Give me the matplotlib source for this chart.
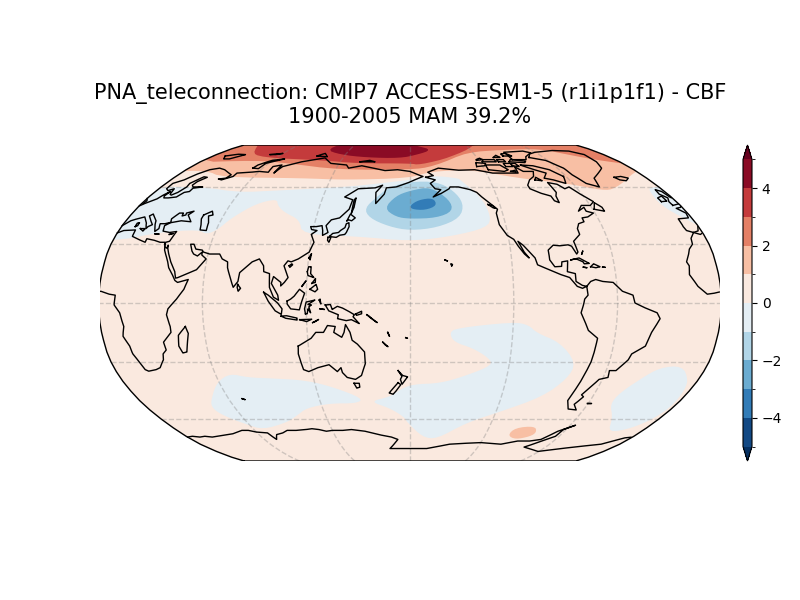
import numpy as np
import matplotlib
matplotlib.use('Agg')
import matplotlib.pyplot as plt
from matplotlib.colors import BoundaryNorm, ListedColormap
from matplotlib.cm import ScalarMappable
from matplotlib.patches import Polygon

title = 'PNA_teleconnection: CMIP7 ACCESS-ESM1-5 (r1i1p1f1) - CBF\n1900-2005 MAM 39.2%'
levels = [-5, -4, -3, -2, -1, 0, 1, 2, 3, 4, 5]
cbar_ticks = [-4, -2, 0, 2, 4]

# Robinson table
rob_lat = np.arange(0, 95, 5)
rob_plen = [1, .9986, .9954, .99, .9822, .973, .96, .9427, .9216, .8962, .8679, .835, .7986, .7597, .7186, .6732, .6213, .5722, .5322]
rob_pdfe = [0, .062, .124, .186, .248, .31, .372, .434, .4958, .5571, .6176, .6769, .7346, .7903, .8435, .8936, .9394, .9761, 1]

# contour regions, (lon, lat); lon runs 0-360 centred on 180
pos1 = [(-10, 69), (18, 69.5), (36, 65.5), (98, 65), (130, 64), (180, 65), (196, 69), (231, 70), (262, 65), (296, 62), (317, 58), (327, 59), (358, 69), (370, 70), (370, 100), (-10, 100)]
pos2 = [(-10, 74.5), (46, 76), (78, 74), (123, 70), (180, 70), (199, 72), (235, 82), (270, 84), (312, 85), (326, 80), (350, 75), (370, 73), (370, 100), (-10, 100)]
pos3 = [(0, 100), (28, 82), (46, 78), (104, 76), (135, 74), (180, 74), (188, 73), (216, 78), (246, 87), (260, 100)]
pos4 = [(96, 84.5), (115, 80), (141, 78), (171, 77.5), (187, 80), (201, 84), (190, 88), (170, 95), (110, 95)]
pos_antarctic = [(258, -69.5), (260, -65), (274, -64), (279, -67.5), (277, -70), (267, -72)]

neg_eurasia = [(-10, 60), (30, 60), (60, 57), (84, 58), (134, 60), (157, 62), (180, 64), (198, 66.5), (216, 65), (218, 64), (229, 54.5), (232, 44), (228, 38.5), (205, 34), (180, 31.5), (148, 34), (114, 35), (110, 42.5), (98, 46.5), (92, 50), (89, 53.5), (77, 51), (66, 43.5), (61, 37.5), (55, 35), (49, 37.5), (25, 36), (5, 32), (-10, 33)]
neg_atlantic = [(370, 60), (353, 60), (349, 57), (347, 50), (355, 43), (370, 34)]
neg_indian = [(50, -48), (59, -40.4), (69, -36), (79, -38), (94, -38.5), (115, -39.5), (131, -43), (149, -49), (144, -51.5), (126, -51.5), (109, -54), (100, -58), (89, -62), (67, -66), (58, -63), (47, -58), (44, -53.5)]
neg_pacific = [(153, -50.5), (167, -48), (174, -44), (182, -41.5), (199, -41), (215, -37), (230, -31.7), (227, -28), (217, -23), (206, -20), (203, -15.3), (207, -12.8), (240, -9.7), (249, -11.2), (254, -15.3), (268, -20), (280, -30.6), (278, -38.5), (267, -48), (243, -56), (222, -62), (202, -71.7), (190, -70.5), (178, -62), (176, -59), (166, -54)]
neg_s_atlantic = [(315, -52), (316, -46), (324, -38.5), (332, -33), (345, -32), (354, -39.5), (357, -46), (358, -57), (350, -65), (335, -68), (325, -59)]
neg2 = [(150, 48.5), (157, 54.5), (165, 60), (180, 63), (200, 63), (211, 58), (216, 51), (212, 43.5), (197, 38.5), (180, 37), (167, 39), (154, 43.5)]
neg3 = [(163, 48.5), (170, 55), (180, 58), (195, 60), (207, 53), (208, 47), (197, 43.5), (180, 43), (171, 44)]
neg4 = [(180, 50), (186, 53), (196, 54), (198, 50), (190, 47.5), (181, 48)]

# coastlines, (lon, lat)
eurasia = [(-5.5, 36), (-9, 37), (-9.5, 39), (-9, 43), (-2, 43.5), (-1, 46), (-4.5, 48.5), (-1, 49), (2, 51), (4, 52), (7, 53.5), (8.5, 55.5), (10.5, 57.5), (10, 55), (11, 54), (14, 54), (19, 54.5), (21, 57), (24, 57.5), (24, 59.3), (30, 60), (23, 60), (21, 61), (21.5, 63), (25, 65.5), (22, 65.8), (17.5, 62), (18.5, 60), (16.5, 57), (14, 55.5), (12.5, 56), (11, 59), (8, 58), (5.5, 59), (5, 62), (10, 64), (14, 67.5), (19, 70), (25, 71), (31, 70), (41, 67), (40, 65), (35, 64.5), (38, 64), (44, 66), (44, 68), (54, 68.5), (60, 69), (68, 68.5), (67, 72), (73, 73), (73, 68), (75, 72), (81, 73.5), (87, 75), (104, 77.7), (113, 74), (127, 73), (130, 71), (140, 72.5), (160, 69.5), (170, 70), (180, 69), (188, 66.5), (190, 66), (185, 64.5), (179, 62.5), (170, 60), (163, 59.5), (162, 56), (157, 51), (156, 57), (160, 61), (155, 59.5), (143, 59), (135, 54.5), (141, 53), (140, 48), (135, 43.5), (130, 42.5), (127.5, 39.5), (129.5, 36), (126.5, 34.5), (126, 37), (125, 39.5), (121.5, 39), (118, 39), (119, 37.5), (122.5, 37), (119.5, 35), (122, 31), (120, 26), (114, 22.5), (110, 21), (108, 21.5), (106, 19), (109, 13), (107, 10.5), (105, 8.7), (105, 10.5), (100.5, 13.5), (99.5, 10), (103.5, 4), (104, 1.4), (101, 3), (98.5, 8), (98, 15), (94.5, 16), (94, 19), (91, 22.5), (87, 21), (80.5, 15.5), (80, 11), (77.5, 8), (73, 18), (72.5, 21), (69, 22.5), (67, 25), (61, 25), (57, 26), (56, 27), (52, 27.5), (50, 30), (48, 30), (50, 26.5), (51.5, 25), (54, 24), (56.3, 26), (56.5, 24.5), (59.5, 22.5), (55, 17), (45, 13), (43.5, 12.7), (42.5, 16), (39, 21), (35, 28), (34.8, 29.5), (34.3, 28), (33.2, 28.5), (32.5, 30), (32.5, 31), (34.5, 31.5), (36, 36.5), (32, 36), (27.5, 36.7), (26.5, 39.5), (29, 41), (35, 42), (41.5, 41.5), (37, 45), (39, 47), (35, 46), (35.5, 45), (33.5, 44.5), (33, 46), (30.5, 46), (28, 43), (29, 41.2), (26, 40.5), (23, 40.5), (24, 38), (22.5, 36.5), (19.5, 41), (19, 42), (14, 45.5), (12.5, 44.5), (16, 41.8), (18.5, 40), (16.5, 39), (16, 38), (14, 40.8), (10, 44), (6, 43), (3, 42), (0, 39.5), (-2, 36.8), (-5.5, 36)]
africa = [(32.5, 30), (33.5, 27), (35.5, 24), (37.2, 21), (38.5, 18), (41, 15), (43.3, 11.5), (45, 10.5), (51, 12), (49, 7), (45, 2), (40, -3), (39, -6), (40.5, -12), (40.5, -15), (35, -20), (35.5, -24), (33, -26), (32, -29), (28, -33), (25, -34), (20, -34.8), (18.3, -34), (17, -30), (15, -26), (14.5, -22), (12, -17), (13.5, -12), (12, -5), (9, -1), (9.5, 4), (6, 4.5), (1, 6), (-4, 5), (-8, 4.5), (-13, 8.5), (-17, 14.5), (-16, 19), (-17, 21), (-13, 27.5), (-10, 30), (-9, 33), (-5.5, 36), (-2, 35), (3, 37), (10, 37.3), (10.5, 34), (15, 32.5), (20, 31), (20, 32.8), (25, 32), (29, 31), (32, 31), (32.5, 30)]
n_america = [(-168, 65.5), (-162, 66.5), (-166, 68.5), (-157, 71), (-141, 69.7), (-128, 70), (-115, 68), (-108, 68), (-95, 68), (-94, 72), (-90, 69), (-82, 69), (-85, 66), (-90, 64), (-94, 61), (-94, 59), (-88, 56.5), (-82.5, 55), (-82, 52.5), (-79.5, 51.5), (-79, 55), (-77, 57), (-78, 62.5), (-72, 61.5), (-69, 59), (-65, 60), (-61, 56), (-56, 52), (-60, 50), (-66, 50), (-70, 47), (-65, 49), (-65, 47), (-61, 46), (-66, 44), (-70, 43.5), (-70, 41.5), (-74, 40.5), (-76, 38), (-76, 35), (-81, 31.5), (-80, 26), (-81, 25), (-83, 29), (-85, 29.7), (-90, 29.2), (-94, 29.5), (-97.5, 27), (-97.5, 22), (-95, 18.5), (-91, 18.7), (-90.5, 21), (-87, 21.5), (-88, 16), (-83.5, 15), (-83.5, 11), (-80, 9), (-77.5, 8.5), (-80, 7.5), (-83, 8.5), (-87, 13), (-92, 14.5), (-96, 16), (-105, 19.5), (-106, 23), (-112, 29.5), (-114.7, 31.5), (-112, 26), (-109.5, 23), (-112, 25), (-115, 29), (-117, 32.5), (-120.5, 34.5), (-122.5, 37.5), (-124, 40), (-124, 46), (-122.5, 48), (-125, 50), (-130, 54), (-133, 57), (-137, 58.5), (-145, 60), (-151, 60), (-152, 59), (-158, 56.5), (-164, 54.5), (-158, 58.5), (-162, 59), (-165, 62), (-161, 64), (-168, 65.5)]
s_america = [(-77.5, 8.5), (-75, 11), (-72, 12), (-68, 11), (-62, 10.5), (-57, 6), (-51, 4), (-50, 0), (-44, -2.5), (-37, -5), (-35, -8), (-39, -15), (-41, -22), (-48, -26), (-49, -29), (-54, -34.5), (-58, -34.5), (-57, -38), (-62, -39), (-65, -43), (-68, -47), (-66, -48), (-69, -52), (-65, -55), (-71, -54.5), (-75, -50), (-73, -40), (-71, -30), (-70, -18), (-76, -14), (-81, -5), (-80, -2), (-79, 2), (-77, 4), (-77.5, 8.5)]
antarctica = [(0, -70.5), (5, -70), (10, -70.5), (15, -70), (20, -70.5), (25, -70), (30, -69.5), (35, -69), (40, -68.5), (45, -67.5), (50, -66.5), (55, -66.5), (60, -67.5), (68, -68), (70, -72), (74, -69), (80, -68), (85, -66.5), (92, -66.5), (100, -66), (105, -65.5), (110, -66), (115, -67), (120, -66.5), (128, -66.5), (135, -66), (145, -67), (155, -69), (165, -70.5), (170, -72), (165, -76), (162, -78), (172, -78), (180, -78), (195, -78), (202, -77), (214, -75), (225, -74.5), (240, -74), (258, -75), (270, -73), (280, -73), (288, -72), (295, -67), (304, -63.5), (298, -66), (297, -70), (281, -77), (299, -80), (325, -77), (344, -75), (355, -71), (360, -70.5)]
greenland = [(-73, 78), (-68, 80.5), (-60, 82), (-40, 83.5), (-25, 83), (-18, 80), (-20, 75), (-24, 71), (-32, 68), (-40, 65), (-43, 60), (-50, 62), (-54, 67), (-55, 71), (-62, 76), (-73, 78)]
ellesmere = [(-90, 76.5), (-78, 76.5), (-75, 78.5), (-65, 81.5), (-70, 83), (-90, 82), (-90, 76.5)]
baffin = [(-62, 66), (-65, 62), (-72, 64), (-78, 65), (-73, 68), (-80, 70), (-88, 73), (-78, 72.5), (-68, 70), (-62, 66)]
victoria = [(-117, 70), (-105, 69), (-101, 70), (-105, 73), (-117, 73), (-117, 70)]
banks = [(-125, 72), (-118, 72.5), (-116, 74), (-124, 74.5), (-125, 72)]
devon = [(-95, 75), (-82, 74.5), (-80, 75.5), (-92, 76.5), (-95, 75)]
melville = [(-118, 75), (-106, 75), (-106, 76.5), (-116, 76.5), (-118, 75)]
heiberg = [(-95, 79), (-87, 79), (-90, 81), (-95, 80.5), (-95, 79)]
pow_island = [(-101, 72), (-95, 72), (-95, 74), (-101, 74), (-101, 72)]
somerset = [(-95, 72.5), (-90, 72), (-91, 74), (-95, 74), (-95, 72.5)]
bathurst = [(-104, 75), (-98, 75), (-98, 76.5), (-104, 76.5), (-104, 75)]
patrick = [(-122, 76), (-116, 76.5), (-118, 77.5), (-122, 76.5), (-122, 76)]
king_william = [(-100, 69), (-96, 68.5), (-96, 69.7), (-100, 69)]
ringnes = [(-105, 78), (-99, 78), (-101, 79.5), (-105, 78)]
southampton = [(-86, 64), (-81, 63.5), (-84, 65.5), (-86, 64)]
newfoundland = [(-59, 48), (-53, 47), (-53, 49), (-56, 51.5), (-59, 48)]
iceland = [(-24, 65.5), (-18, 66), (-14, 65), (-18, 63.5), (-22, 64), (-24, 65.5)]
svalbard = [(11, 79), (20, 80.3), (27, 80), (20, 77), (15, 77), (11, 79)]
franz_josef = [(50, 80), (60, 81), (55, 80), (50, 80)]
novaya = [(52, 71), (57, 70.7), (58, 74), (69, 77), (60, 76), (53, 73), (52, 71)]
severnaya = [(95, 79), (105, 78.5), (100, 81), (95, 79)]
siberian = [(137, 75), (150, 75), (145, 76), (137, 75)]
britain = [(-5, 50), (1, 51), (1.5, 52.5), (-1, 54.5), (-2, 57.5), (-5, 58.5), (-6, 56), (-3, 54), (-5, 52), (-5, 50)]
ireland = [(-10, 52), (-6, 52.3), (-6, 55), (-10, 54), (-10, 52)]
sicily = [(12.5, 38), (15.5, 38), (15, 36.7), (12.5, 38)]
sardinia = [(8.5, 39), (9.7, 39.5), (9.5, 41), (8.3, 40.8), (8.5, 39)]
crete = [(23.5, 35.3), (26, 35.2), (23.5, 35.3)]
cyprus = [(32.5, 35), (34.5, 35.5), (32.5, 35)]
caspian = [(47, 45), (51, 47), (53, 45), (50.5, 44.5), (53, 41), (54, 37), (50, 37.3), (49, 40), (47, 43), (47, 45)]
honshu = [(130.9, 34), (132.5, 35.5), (136, 36), (137, 37), (139.5, 38.5), (140, 40.5), (141.5, 41), (142, 39), (140.8, 36), (140, 35), (137, 34.6), (135, 33.5), (132, 33.8), (130.9, 34)]
kyushu = [(130, 33.5), (131.8, 33.5), (131, 31), (130, 32), (130, 33.5)]
hokkaido = [(140, 42), (141.5, 45.5), (145, 43.5), (143, 42), (141, 42.5), (140, 42)]
sakhalin = [(142, 46), (143, 49), (143, 54), (142, 53), (142, 46)]
taiwan = [(120.2, 23), (121.5, 25.2), (121, 22), (120.2, 23)]
hainan = [(109, 19), (110.5, 20), (111, 19.5), (109.5, 18.2), (109, 19)]
luzon = [(120, 16), (120.5, 18.5), (122, 18.5), (122, 15), (124, 13), (120.5, 14), (120, 16)]
mindanao = [(122, 7), (125.5, 9.5), (126.5, 7), (125, 5.7), (122, 7)]
visayas = [(123, 10), (125, 12.5), (125, 10.5), (123, 10)]
palawan = [(117.3, 8.5), (119.5, 11.2), (117.3, 8.5)]
sri_lanka = [(80, 9.5), (81.8, 7.5), (80.5, 6), (79.8, 8), (80, 9.5)]
borneo = [(109, 1), (111, 2), (113, 3.5), (116, 7), (119, 5), (117.5, 1), (116, -3.5), (111, -3), (109, -0.5), (109, 1)]
sumatra = [(95.3, 5.5), (98, 4), (103.5, 0), (106, -3), (105.5, -5.8), (102, -4), (98, 1), (95.3, 5.5)]
java = [(105.3, -6.7), (108.5, -6.5), (114.5, -7.7), (114.5, -8.7), (108, -7.8), (105.3, -6.7)]
sunda = [(116, -8.5), (119, -8.4), (123, -8.3), (120, -9.5), (116, -8.5)]
timor = [(123.5, -10), (127, -8.4), (125, -9.5), (123.5, -10)]
sulawesi = [(119.5, -5.5), (119, -3), (120, 0.5), (125, 1.5), (121, -0.8), (123, -1), (121.5, -2), (122.5, -5), (121, -3), (120.5, -5.5), (119.5, -5.5)]
halmahera = [(127.5, 1.5), (128.5, -0.5), (128, 2), (127.5, 1.5)]
seram = [(128, -3), (130.5, -3.3), (128, -3)]
new_guinea = [(131, -1), (134, -0.8), (135, -3.3), (138, -1.7), (141, -2.6), (145, -4.5), (147.8, -6), (147, -7), (150.5, -10.5), (146, -8.5), (143, -9), (138, -8), (138.5, -6), (133, -4), (131, -1)]
new_britain = [(148.5, -5.6), (152, -4.2), (152, -5.5), (149, -6.3), (148.5, -5.6)]
solomon = [(155, -6), (157, -7.5), (161, -10), (160, -9.5), (156, -6.5), (155, -6)]
vanuatu = [(167, -15), (168, -17), (167, -15)]
fiji = [(177.5, -17.7), (178.5, -18), (177.5, -17.7)]
caledonia = [(164, -20), (167, -22.3), (165.5, -21.5), (164, -20)]
hawaii = [(-155.5, 19), (-155, 19.7), (-156, 20), (-155.5, 19)]
oahu = [(-158, 21.5), (-159.5, 22), (-158, 21.5)]
cuba = [(-85, 22), (-80, 23), (-74.5, 20.2), (-77.5, 20), (-78, 21), (-82, 22.6), (-85, 22)]
hispaniola = [(-74, 18.5), (-72, 20), (-68.5, 18.5), (-71, 18), (-74, 18.5)]
jamaica = [(-78.3, 18.3), (-76.3, 18), (-78.3, 18.3)]
puerto_rico = [(-67, 18.3), (-65.5, 18.2), (-67, 18.3)]
bahamas = [(-78, 25), (-77, 26.5), (-78, 25)]
vancouver = [(-128, 50.5), (-125, 50), (-123.5, 48.5), (-125, 48.7), (-128, 50.5)]
madagascar = [(49.3, -12), (50.5, -15.5), (47.5, -25), (45, -25.5), (43.5, -22), (44.5, -16.5), (49.3, -12)]
australia = [(114, -22), (113.5, -26), (115, -34), (118, -35), (124, -33), (131, -31.5), (135.5, -35), (138, -33), (138.5, -35.5), (141, -38), (146, -39), (150, -37), (153, -31), (153, -25), (149, -21), (146, -19), (145, -15), (142.5, -11), (141.5, -15), (140, -17.5), (135.5, -15), (136.5, -12), (132, -11.5), (129.5, -15), (125, -15), (122, -18), (114, -22)]
tasmania = [(144.7, -41), (148, -41), (148, -43), (146, -43.5), (144.7, -41)]
nz_north = [(172.7, -34.5), (175.5, -37), (178.5, -37.7), (175, -41.5), (174, -39), (175, -37.5), (172.7, -34.5)]
nz_south = [(172.5, -40.7), (174.2, -41.7), (171, -45), (169, -46.7), (166.5, -46), (172.5, -40.7)]
kerguelen = [(69, -49), (70.5, -49.5), (69, -49)]
falklands = [(-61, -51.5), (-58, -51.5), (-61, -51.5)]

coasts = [eurasia, africa, n_america, s_america, antarctica, greenland, ellesmere, baffin, victoria, banks, devon,
          melville, heiberg, pow_island, somerset, bathurst, patrick, king_william, ringnes, southampton,
          newfoundland, iceland, svalbard, franz_josef, novaya, severnaya, siberian,
          britain, ireland, sicily, sardinia, crete, cyprus, caspian, honshu, kyushu, hokkaido, sakhalin, taiwan,
          hainan, luzon, mindanao, visayas, palawan, sri_lanka, borneo, sumatra, java, sunda, timor, sulawesi,
          halmahera, seram, new_guinea, new_britain, solomon, vanuatu, fiji, caledonia, hawaii, oahu, cuba,
          hispaniola, jamaica, puerto_rico, bahamas, vancouver, madagascar, australia, tasmania, nz_north, nz_south,
          kerguelen, falklands]


def robinson(lon, lat):
    lon = np.asarray(lon, dtype=float)
    lat = np.asarray(lat, dtype=float)
    x = 0.8487 * np.interp(np.abs(lat), rob_lat, rob_plen) * np.radians(lon - 180)
    y = 1.3523 * np.sign(lat) * np.interp(np.abs(lat), rob_lat, rob_pdfe)
    return x, y


def smooth(pts, n=2):
    # corner cutting, the contours in the original are round
    p = np.array(pts, dtype=float)
    for i in range(n):
        q = np.roll(p, -1, axis=0)
        p = np.column_stack([0.75 * p + 0.25 * q, 0.25 * p + 0.75 * q]).reshape(-1, 2)
    return p


def coast_xy(pts):
    # densify, wrap at the map edge and break the line there
    p = np.array(pts, dtype=float)
    lon = np.concatenate([np.linspace(p[i, 0], p[i + 1, 0], 6)[:-1] for i in range(len(p) - 1)] + [p[-1:, 0]])
    lat = np.concatenate([np.linspace(p[i, 1], p[i + 1, 1], 6)[:-1] for i in range(len(p) - 1)] + [p[-1:, 1]])
    lon = np.mod(lon, 360)
    x, y = robinson(lon, lat)
    jump = np.where(np.abs(np.diff(lon)) > 180)[0]
    return np.insert(x, jump + 1, np.nan), np.insert(y, jump + 1, np.nan)


cmap = plt.get_cmap('RdBu_r')
mids = (np.array(levels[:-1]) + np.array(levels[1:])) / 2
colors = [cmap((m + 5) / 10) for m in mids]
cm = ListedColormap(colors)
cm.set_under(cmap(0.0))
cm.set_over(cmap(1.0))
norm = BoundaryNorm(levels, len(colors))

fig = plt.figure(figsize=(8, 6), dpi=100)
ax = fig.add_axes([100 / 800, 139 / 600, 620 / 800, 316 / 600])
ax.set_xlim(-2.666 * 310 / 311.5, 2.666 * 310 / 311.5)
ax.set_ylim(-1.3523, 1.3523)
ax.axis('off')

edge_lat = np.linspace(-90, 90, 181)
x0, y0 = robinson(np.full(181, 0), edge_lat)
x1, y1 = robinson(np.full(181, 360), edge_lat)
outline = np.column_stack([np.r_[x0, x1[::-1]], np.r_[y0, y1[::-1]]])
clip = Polygon(outline, closed=True, fc=colors[5], ec='none', zorder=1)
ax.add_patch(clip)

regions = [(pos1, 1.5), (pos2, 2.5), (pos3, 3.5), (pos4, 4.5), (pos_antarctic, 1.5),
           (neg_eurasia, -0.5), (neg_atlantic, -0.5), (neg_indian, -0.5), (neg_pacific, -0.5), (neg_s_atlantic, -0.5),
           (neg2, -1.5), (neg3, -2.5), (neg4, -3.5)]
for pts, val in regions:
    s = smooth(pts)
    x, y = robinson(s[:, 0], s[:, 1])
    h = ax.fill(x, y, color=cm(norm(val)), lw=0, zorder=2)[0]
    h.set_clip_path(clip)

# gridlines
for lon in [60, 120, 180, 240, 300]:
    la = np.linspace(-90, 90, 91)
    x, y = robinson(np.full(91, lon), la)
    ax.plot(x, y, color='gray', alpha=0.35, lw=1, ls='--', zorder=3)
for lat in [-60, -30, 0, 30, 60]:
    lo = np.linspace(0, 360, 91)
    x, y = robinson(lo, np.full(91, lat))
    ax.plot(x, y, color='gray', alpha=0.35, lw=1, ls='--', zorder=3)

for c in coasts:
    x, y = coast_xy(c)
    ax.plot(x, y, color='k', lw=1.0, zorder=4)

ax.plot(np.r_[outline[:, 0], outline[0, 0]], np.r_[outline[:, 1], outline[0, 1]], color='k', lw=1, zorder=5)

ax.set_title(title, fontsize=15, pad=16)

cax = fig.add_axes([743 / 800, 139 / 600, 9 / 800, 316 / 600])
sm = ScalarMappable(norm=norm, cmap=cm)
cb = fig.colorbar(sm, cax=cax, extend='both', ticks=cbar_ticks, spacing='proportional')

fig.savefig('out.png', dpi=100)
